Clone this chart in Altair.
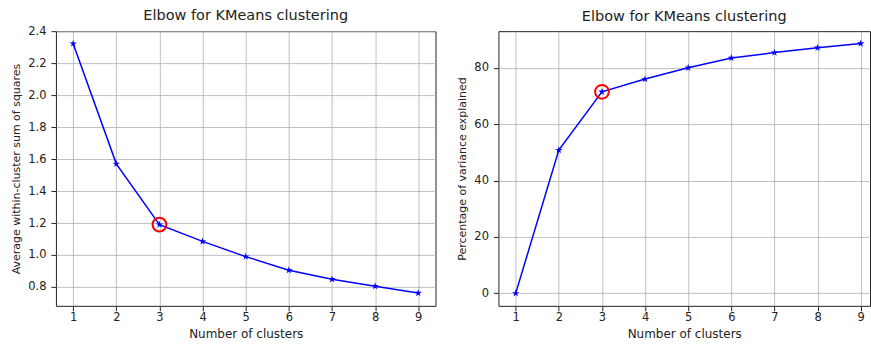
import altair as alt
import pandas as pd

clusters = [1, 2, 3, 4, 5, 6, 7, 8, 9]
avg_withinss = [2.322, 1.57, 1.19, 1.085, 0.99, 0.905, 0.848, 0.805, 0.762]
pct_variance = [0.0, 50.8, 71.5, 76.0, 80.0, 83.5, 85.4, 87.1, 88.6]
elbow_k = 3
left_yticks = [0.8, 1.0, 1.2, 1.4, 1.6, 1.8, 2.0, 2.2, 2.4]
right_yticks = [0, 20, 40, 60, 80]
title_text = "Elbow for KMeans clustering"
x_title = "Number of clusters"
left_y_title = "Average within-cluster sum of squares"
right_y_title = "Percentage of variance explained"

FONT = "DejaVu Sans"
STAR = ("M0,-1L0.225,-0.309L0.951,-0.309L0.363,0.118L0.588,0.809L0,0.382"
        "L-0.588,0.809L-0.363,0.118L-0.951,-0.309L-0.225,-0.309Z")


def panel(values, ytitle, ydomain, yticks, yformat, xdomain, width, toffset):
    df = pd.DataFrame({"k": clusters, "v": values})
    x = alt.X("k:Q", scale=alt.Scale(domain=xdomain, nice=False, zero=False),
              axis=alt.Axis(values=clusters, title=x_title, format="d",
                            labelPadding=1, titlePadding=5, titleFontSize=12))
    y = alt.Y("v:Q", scale=alt.Scale(domain=ydomain, nice=False, zero=False),
              axis=alt.Axis(values=yticks, title=ytitle, format=yformat,
                            labelPadding=5, titlePadding=6, titleFontSize=11))
    line = alt.Chart(df).mark_line(color="#0000ff", strokeWidth=1.5).encode(x=x, y=y)
    pts = alt.Chart(df).mark_point(shape=STAR, filled=True, color="#0000ff",
                                   size=60, opacity=1).encode(x=x, y=y)
    ring = alt.Chart(df).transform_filter(alt.datum.k == elbow_k).mark_point(
        shape="circle", filled=False, color="#ff0000", size=190, strokeWidth=2,
        opacity=1).encode(x=x, y=y)
    return alt.layer(line, pts, ring).properties(
        width=width, height=275,
        title=alt.TitleParams(title_text, offset=toffset))


left = panel(avg_withinss, left_y_title, [0.682, 2.4], left_yticks, ".1f",
             [0.6, 9.4], 380, 2)
right = panel(pct_variance, right_y_title, [-4.43, 93.0], right_yticks, "d",
              [0.6, 9.215], 372, 7)

chart = alt.hconcat(left, right, spacing=19).properties(
    padding={"left": 10, "top": 7, "right": 0, "bottom": 0}
).configure(font=FONT, background="white").configure_view(
    stroke="#222", strokeWidth=1
).configure_axis(
    domain=False, grid=True, gridColor="#b0b0b0", gridWidth=0.8,
    tickColor="#222", tickSize=5, labelFont=FONT, labelFontSize=11.5,
    labelColor="#222", titleFont=FONT, titleFontWeight="normal",
    titleColor="#222"
).configure_title(
    font=FONT, fontSize=14.5, fontWeight="normal", color="#222", anchor="middle",
    frame="group"
)

chart.save("out.html", embed_options={"renderer": "svg", "actions": False})
